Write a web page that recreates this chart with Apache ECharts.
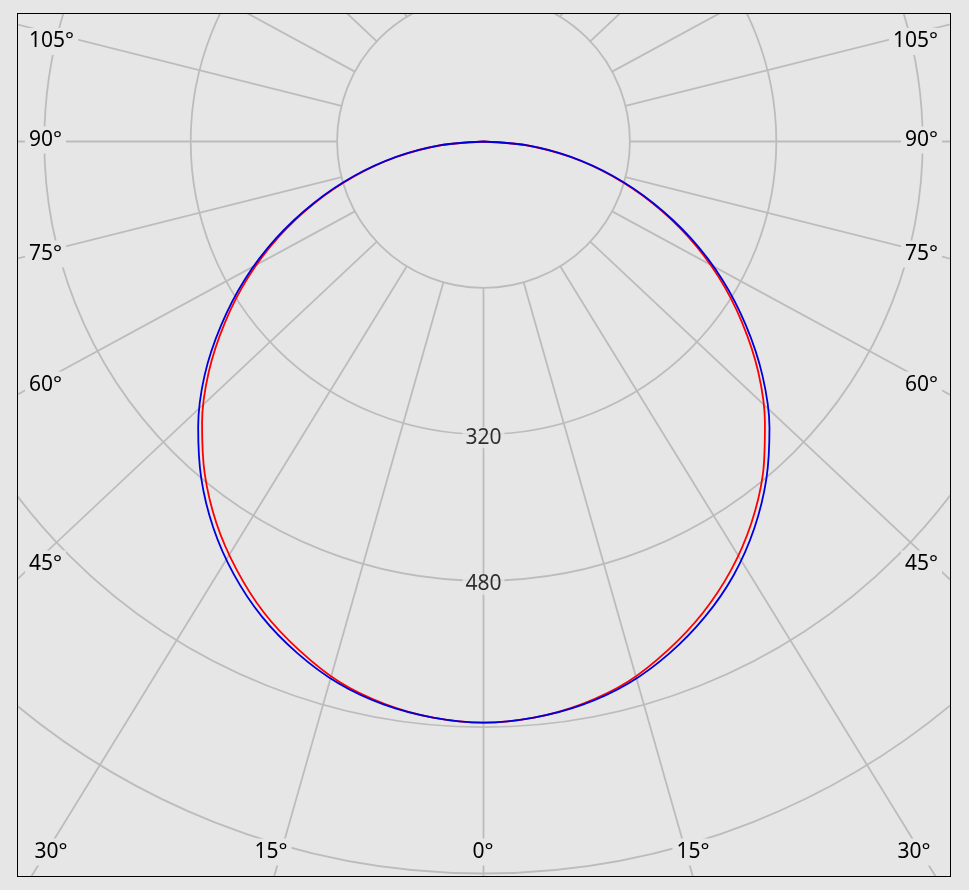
<!DOCTYPE html>
<html>
<head>
<meta charset="utf-8">
<script src="https://cdn.jsdelivr.net/npm/echarts@6/dist/echarts.min.js"></script>
<style>
  html, body { margin: 0; padding: 0; background: #e6e6e6; width: 969px; height: 890px; overflow: hidden; }
  #chart { position: absolute; left: 17px; top: 13px; width: 932px; height: 862px; border: 1px solid #000; }
</style>
</head>
<body>
<div id="chart"></div>
<script>
// ---- data (candela values) ----
const gammaAngles = [0, 5, 10, 15, 20, 25, 30, 35, 40, 45, 50, 55, 60, 65, 70, 75, 80, 85, 90];
const redLeft   = [635, 632, 624, 611, 591, 568, 540, 509, 474, 435, 392, 345, 297, 247, 196, 145, 96, 47, 0];
const redRight  = [635, 632, 624, 611, 591, 568, 541, 510, 475, 435, 392, 345, 297, 247, 196, 145, 96, 47, 0];
const blueLeft  = [635, 632, 625, 613, 595, 573, 546, 515, 480, 441, 398, 350, 301, 250, 198, 147, 97, 48, 0];
const blueRight = [635, 632, 625, 613, 595, 573, 547, 516, 481, 442, 398, 350, 301, 250, 198, 147, 97, 48, 0];
// radial grid lines (angle axis ticks) as drawn in the reference
const gridLineAngles = [0, 15.9, 31.6, 46.8, 61.5, 75.9, 90, 104.1, 118.5, 133.2, 148.4, 164.1, 180];
const radiusLabels = [320, 480];
const sideLabels = ['105°', '90°', '75°', '60°', '45°'];
const bottomLabels = ['30°', '15°', '0°', '15°', '30°'];

// ---- build ----
function curve(left, right) {
  const pts = [];
  for (let i = gammaAngles.length - 1; i >= 0; i--) pts.push([right[i], 360 - gammaAngles[i]]);
  for (let i = 0; i < gammaAngles.length; i++) pts.push([left[i], gammaAngles[i]]);
  return pts;
}
const tickAngles = [];
gridLineAngles.forEach(a => { tickAngles.push(a); if (a > 0 && a < 180) tickAngles.push(360 - a); });
tickAngles.sort((a, b) => a - b);

const chart = echarts.init(document.getElementById('chart'));
const FONT = '21px "Noto Sans", sans-serif';
const BG = '#e6e6e6';
const GRID = { color: '#bcbcbc', width: 1.8 };

const sideY = [27.5, 126, 240, 371, 550];
const bottomX = [33, 253, 465, 675, 896];
const graphics = [];
sideLabels.forEach((t, i) => {
  graphics.push({ type: 'text', z: 100, x: 7, y: sideY[i],
    style: { text: t, font: FONT, fill: '#000', align: 'left', verticalAlign: 'middle', backgroundColor: BG, padding: [3, 4] } });
  graphics.push({ type: 'text', z: 100, x: 924, y: sideY[i],
    style: { text: t, font: FONT, fill: '#000', align: 'right', verticalAlign: 'middle', backgroundColor: BG, padding: [3, 4] } });
});
bottomLabels.forEach((t, i) => {
  graphics.push({ type: 'text', z: 100, x: bottomX[i], y: 838,
    style: { text: t, font: FONT, fill: '#000', align: 'center', verticalAlign: 'middle', backgroundColor: BG, padding: [3, 4] } });
});

const hidden = { axisLine: { show: false }, axisTick: { show: false }, axisLabel: { show: false }, splitLine: { show: false } };

chart.setOption({
  animation: false,
  backgroundColor: BG,
  polar: [
    { center: [465.5, 127.5], radius: [146.4, 878.4] },   // grid (rings start at 160)
    { center: [465.5, 127.5], radius: [0, 878.4] }        // data
  ],
  angleAxis: [
    { polarIndex: 0, type: 'value', min: 0, max: 360, startAngle: 270, clockwise: true,
      axisLine: { show: false },
      axisTick: { show: false, customValues: tickAngles },
      axisLabel: { show: false },
      splitLine: { show: true, lineStyle: GRID } },
    Object.assign({ polarIndex: 1, type: 'value', min: 0, max: 360, startAngle: 270, clockwise: true }, hidden)
  ],
  radiusAxis: [
    { polarIndex: 0, type: 'value', min: 160, max: 960, interval: 160,
      axisLine: { show: false }, axisTick: { show: false }, axisLabel: { show: false },
      splitLine: { show: true, lineStyle: GRID } },
    Object.assign({ polarIndex: 1, type: 'value', min: 0, max: 960, interval: 160 }, hidden)
  ],
  graphic: { elements: graphics },
  series: [
    { type: 'line', coordinateSystem: 'polar', polarIndex: 1, data: curve(redLeft, redRight), showSymbol: false, symbol: 'none',
      smooth: 0.3, lineStyle: { color: '#ff0000', width: 1.8 }, z: 3 },
    { type: 'line', coordinateSystem: 'polar', polarIndex: 1, data: curve(blueLeft, blueRight), showSymbol: false, symbol: 'none',
      smooth: 0.3, lineStyle: { color: '#0000dd', width: 1.8 }, z: 4 },
    { type: 'scatter', coordinateSystem: 'polar', polarIndex: 1, data: radiusLabels.map(v => [v, 0]), symbolSize: 0, z: 5,
      label: { show: true, position: 'inside', offset: [0, 3.5], formatter: p => String(p.value[0]),
        color: '#000', fontSize: 21, fontFamily: 'Noto Sans', backgroundColor: BG, padding: [0, 3], lineHeight: 21 } }
  ]
});
</script>
</body>
</html>
